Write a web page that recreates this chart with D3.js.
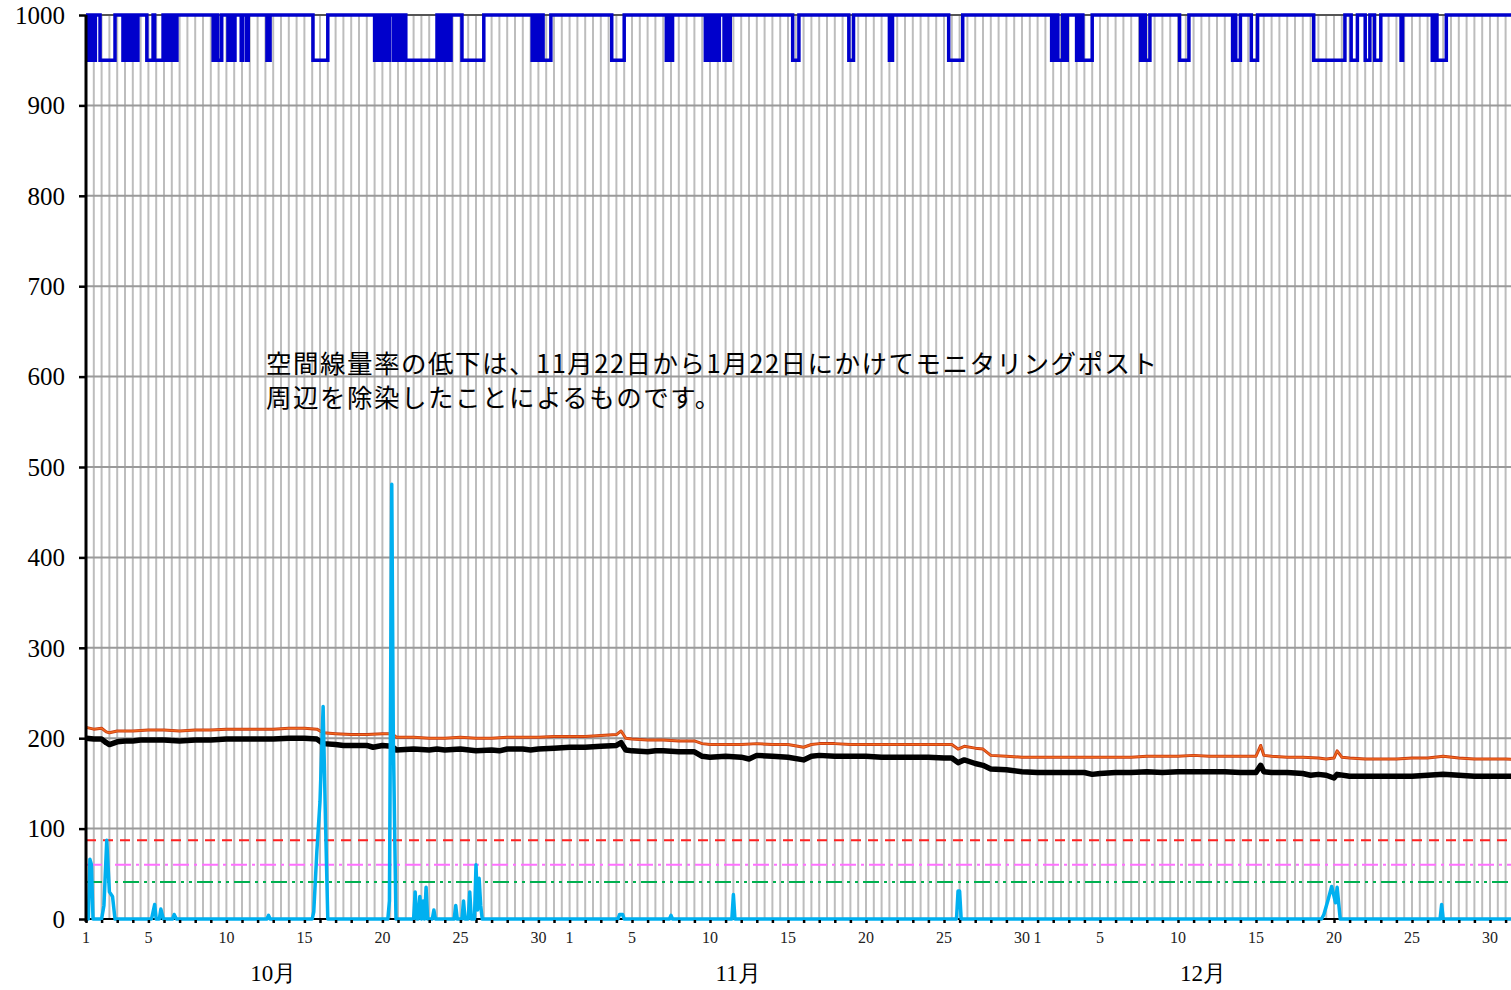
<!DOCTYPE html>
<html><head><meta charset="utf-8">
<script src="https://cdn.jsdelivr.net/npm/d3@7"></script>
<style>body{margin:0;background:#fff;overflow:hidden} svg{display:block}</style>
</head><body><svg id="c" width="1511" height="990"></svg>
<script>
// ---------- data ----------
const months = ["10月", "11月", "12月"];
const monthStartDay = [0, 31, 61];          // day index (Oct 1 = 0)
const dayTickLabels = [1, 5, 10, 15, 20, 25, 30];
const yTickValues = [0, 100, 200, 300, 400, 500, 600, 700, 800, 900, 1000];
const refRed = 87, refPink = 60, refGreen = 41;
const noteLines = ["空間線量率の低下は、11月22日から1月22日にかけてモニタリングポスト",
                   "周辺を除染したことによるものです。"];

// black line [day, value]
const blackSeries = [[0,200],[0.5,199],[1,199],[1.3,195],[1.5,193],[2,196],[2.5,197],[3,197],[3.5,198],[4,198],[5,198],[6,197],[7,198],[8,198],[9,199],[10,199],[11,199],[12,199],[13,200],[14,200],[14.8,199],[15.2,194],[16,193],[16.5,192],[17,192],[18,192],[18.4,190],[19,192],[19.6,191],[19.9,187],[21,188],[22,187],[22.5,188],[23,187],[24,188],[25,186],[26,187],[26.5,186],[27,188],[28,188],[28.5,187],[29,188],[30,189],[31,190],[32,190],[33,191],[34,192],[34.3,195],[34.6,187],[35,186],[36,185],[36.5,186],[37,186],[38,185],[39,185],[39.5,180],[40,179],[41,180],[42,179],[42.5,177],[43,181],[44,180],[45,179],[46,176],[46.5,180],[47,181],[48,180],[49,180],[50,180],[51,179],[52,179],[53,179],[54,179],[55,178],[55.5,178],[55.9,173],[56.3,176],[57,172],[57.5,170],[58,166],[59,165],[60,163],[61,162],[62,162],[63,162],[64,162],[64.5,160],[65,161],[66,162],[67,162],[68,163],[69,162],[70,163],[71,163],[72,163],[73,163],[74,162],[75,162],[75.3,170],[75.5,163],[76,162],[77,162],[78,161],[78.5,159],[79,160],[79.5,159],[80,156],[80.2,160],[81,158],[82,158],[83,158],[84,158],[85,158],[86,159],[87,160],[88,159],[89,158],[90,158],[91,158],[92,158]];

// orange line [day, value]
const orangeSeries = [[0,212],[0.5,210],[1,211],[1.3,207],[1.5,206],[2,208],[3,208],[4,209],[5,209],[6,208],[7,209],[8,209],[9,210],[10,210],[11,210],[12,210],[13,211],[14,211],[14.8,210],[15.2,206],[16,205],[17,204],[18,204],[19,205],[19.6,205],[19.9,201],[21,201],[22,200],[23,200],[24,201],[25,200],[26,200],[27,201],[28,201],[29,201],[30,202],[31,202],[32,202],[33,203],[34,204],[34.3,208],[34.6,200],[35,199],[36,198],[37,198],[38,197],[39,197],[39.5,194],[40,193],[41,193],[42,193],[43,194],[44,193],[45,193],[46,190],[46.5,193],[47,194],[48,194],[49,193],[50,193],[51,193],[52,193],[53,193],[54,193],[55,193],[55.5,193],[55.9,188],[56.3,191],[57,189],[57.5,188],[58,181],[59,180],[60,179],[61,179],[62,179],[63,179],[64,179],[65,179],[66,179],[67,179],[68,180],[69,180],[70,180],[71,181],[72,180],[73,180],[74,180],[75,180],[75.3,192],[75.5,181],[76,180],[77,179],[78,179],[79,178],[79.5,177],[80,178],[80.2,186],[80.5,179],[81,178],[82,177],[83,177],[84,177],[85,178],[86,178],[87,180],[88,178],[89,177],[90,177],[91,177],[92,176]];

// cyan line [day, value]
const cyanSeries = [[0,0],[0.15,0],[0.25,66],[0.35,60],[0.45,0],[1.0,0],[1.15,15],[1.33,87],[1.5,30],[1.7,25],[1.86,0],[4.2,0],[4.3,8],[4.4,16],[4.5,0],[4.7,0],[4.8,11],[4.96,0],[5.55,0],[5.65,5],[5.8,0],[11.6,0],[11.7,4],[11.8,0],[14.5,0],[14.6,8],[14.8,75],[15.0,130],[15.2,235],[15.35,110],[15.5,0],[19.35,0],[19.45,20],[19.6,481],[19.7,200],[19.87,0],[21.0,0],[21.1,30],[21.2,0],[21.3,0],[21.4,25],[21.5,0],[21.6,20],[21.7,0],[21.8,35],[21.9,0],[22.2,0],[22.3,10],[22.4,0],[23.6,0],[23.7,15],[23.8,0],[24.1,0],[24.2,20],[24.3,0],[24.5,0],[24.6,30],[24.7,0],[24.9,0],[25.0,60],[25.1,10],[25.2,45],[25.3,15],[25.4,0],[34.1,0],[34.2,5],[34.4,5],[34.5,0],[37.4,0],[37.5,4],[37.6,0],[41.4,0],[41.5,27],[41.6,0],[55.8,0],[55.9,31],[56.0,31],[56.1,0],[79.2,0],[79.35,5],[79.6,20],[79.85,36],[80.1,18],[80.2,35],[80.4,0],[86.8,0],[86.9,16],[87.0,0],[92,0]];

// blue line: intervals [start, end] (days) where the value drops from 1000 to 950
const blueHigh = 1000, blueLow = 950;
const blueDrops = [[0.05,0.12],[0.22,0.3],[0.45,0.6],[0.9,1.86],[2.37,2.45],[2.55,2.65],[2.75,2.82],[2.92,3.0],[3.2,3.33],[3.9,4.3],[4.4,4.94],[5.13,5.2],[5.3,5.4],[5.5,5.6],[5.7,5.83],[8.15,8.25],[8.45,8.7],[9.1,9.2],[9.4,9.55],[9.95,10.05],[10.3,10.4],[11.6,11.8],[14.55,15.5],[18.5,18.6],[18.7,18.8],[18.9,19.0],[19.1,19.2],[19.35,19.45],[19.7,19.8],[19.9,20.0],[20.1,20.3],[20.5,22.5],[22.6,22.7],[22.8,22.9],[23.0,23.1],[23.2,23.4],[24.1,25.5],[28.6,28.7],[28.8,28.9],[29.0,29.2],[29.3,29.8],[33.7,34.5],[37.2,37.3],[37.4,37.6],[39.7,39.8],[39.9,40.0],[40.1,40.3],[40.4,40.6],[40.9,41.0],[41.1,41.3],[45.3,45.7],[48.9,49.2],[51.5,51.7],[55.3,56.2],[61.9,62.0],[62.1,62.2],[62.3,62.6],[62.8,62.9],[63.5,63.7],[63.9,64.5],[67.6,67.8],[67.9,68.2],[70.1,70.7],[73.5,73.6],[73.7,74.0],[74.7,75.1],[78.7,80.7],[81.1,81.5],[82.0,82.3],[82.6,83.0],[84.3,84.4],[86.3,86.4],[86.6,87.2]];

// ---------- layout ----------
const W = 1511, H = 990;
const svg = d3.select("#c");
const x = d3.scaleLinear().domain([0, 92]).range([86, 86 + 92 * 15.6]);
const y = d3.scaleLinear().domain([0, 1000]).range([919, 15]);
const serif = "'Liberation Serif','DejaVu Serif',serif";
const jp = "'Noto Sans CJK JP','Noto Sans',sans-serif";

// vertical half-day gridlines
const halfDays = d3.range(1, 185).map(i => i / 2);
svg.append("g").selectAll("line").data(halfDays).join("line")
  .attr("x1", d => x(d)).attr("x2", d => x(d))
  .attr("y1", y(1000)).attr("y2", y(0))
  .attr("stroke", "#bdbdbd").attr("stroke-width", 2);

// horizontal gridlines
svg.append("g").selectAll("line").data(yTickValues.filter(v => v > 0)).join("line")
  .attr("x1", x(0)).attr("x2", W)
  .attr("y1", d => y(d)).attr("y2", d => y(d))
  .attr("stroke", d => d === 1000 ? "#555" : "#9a9a9a").attr("stroke-width", 2);

// annotation
const note = svg.append("text").attr("font-family", jp).attr("font-size", 25.5)
  .attr("letter-spacing", 1.5).attr("fill", "#000");
noteLines.forEach((t, i) => note.append("tspan").attr("x", 266).attr("y", 373 + i * 34).text(t));

// reference lines
const refs = [[refRed, "#ff2020", "10,7"], [refPink, "#ff70ff", "16,5,3,5"], [refGreen, "#00b050", "16,5,3,5,3,5"]];
svg.append("g").selectAll("line").data(refs).join("line")
  .attr("x1", x(0)).attr("x2", W)
  .attr("y1", d => y(d[0])).attr("y2", d => y(d[0]))
  .attr("stroke", d => d[1]).attr("stroke-width", 2).attr("stroke-dasharray", d => d[2]);

const line = d3.line().x(d => x(d[0])).y(d => y(d[1]));

// orange
svg.append("path").datum(orangeSeries).attr("d", line).attr("fill", "none")
  .attr("stroke", "#c83a10").attr("stroke-width", 3).attr("stroke-linejoin", "round");
svg.append("path").datum(orangeSeries).attr("d", line).attr("fill", "none")
  .attr("stroke", "#f06a20").attr("stroke-width", 1.4).attr("stroke-linejoin", "round");
// black
svg.append("path").datum(blackSeries).attr("d", line).attr("fill", "none")
  .attr("stroke", "#000").attr("stroke-width", 5.5).attr("stroke-linejoin", "round");

// x axis baseline
svg.append("line").attr("x1", x(0)).attr("x2", W).attr("y1", y(0)).attr("y2", y(0))
  .attr("stroke", "#000").attr("stroke-width", 2);

// cyan
svg.append("path").datum(cyanSeries).attr("d", line).attr("fill", "none")
  .attr("stroke", "#00b0f0").attr("stroke-width", 3.5).attr("stroke-linejoin", "round");

// blue step line
const bluePts = [[0, blueHigh]];
blueDrops.forEach(([a, b]) => { bluePts.push([a, blueHigh], [a, blueLow], [b, blueLow], [b, blueHigh]); });
bluePts.push([92, blueHigh]);
svg.append("path").datum(bluePts).attr("d", line).attr("fill", "none")
  .attr("stroke", "#0000cc").attr("stroke-width", 3.5).attr("stroke-linejoin", "miter");

// y axis
const yAxis = d3.axisLeft(y).tickValues(yTickValues).tickSize(7).tickPadding(14).tickFormat(d3.format("d"));
const gy = svg.append("g").attr("transform", `translate(${x(0)},0)`).call(yAxis);
gy.select(".domain").attr("stroke-width", 3).attr("d", `M0,${y(1000)}V${y(0) + 3}`);
gy.selectAll(".tick line").attr("stroke-width", 2.5);
gy.selectAll(".tick text").attr("font-family", serif).attr("font-size", 25).attr("fill", "#000").attr("dy", "0.33em");

// x axis day ticks
const dayIdx = d3.range(0, 92);
const xAxis = d3.axisBottom(x).tickValues(dayIdx).tickSize(3).tickFormat("");
const gx = svg.append("g").attr("transform", `translate(0,${y(0) + 1})`).call(xAxis);
gx.select(".domain").remove();
gx.selectAll(".tick line").attr("stroke-width", 2.5);

// day labels
const dayLabels = [];
monthStartDay.forEach(s => dayTickLabels.forEach(d => dayLabels.push({ idx: s + d - 1, t: d })));
svg.append("g").selectAll("text").data(dayLabels).join("text")
  .attr("x", d => x(d.idx)).attr("y", 943).attr("text-anchor", "middle")
  .attr("font-family", serif).attr("font-size", 16).attr("fill", "#222").text(d => d.t);

// month labels
const monthOffset = [12, 10.8, 10.6];
svg.append("g").selectAll("text").data(months).join("text")
  .attr("x", (d, i) => x(monthStartDay[i] + monthOffset[i])).attr("y", 981).attr("text-anchor", "middle")
  .attr("font-family", serif).attr("font-size", 23).attr("fill", "#000").text(d => d);
</script></body></html>
